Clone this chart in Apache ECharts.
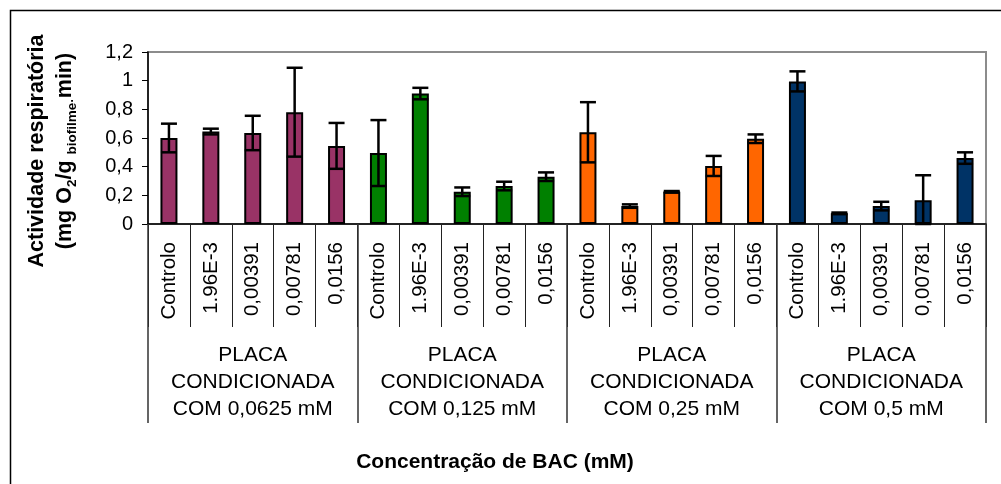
<!DOCTYPE html>
<html>
<head>
<meta charset="utf-8">
<script src="https://cdn.jsdelivr.net/npm/echarts@6/dist/echarts.min.js"></script>
<style>
html,body{margin:0;padding:0;background:#fff;}
#c{width:1001px;height:484px;}
</style>
</head>
<body>
<div id="c"></div>
<script>
const categories = ['Controlo','1.96E-3','0,00391','0,00781','0,0156',
                    'Controlo','1.96E-3','0,00391','0,00781','0,0156',
                    'Controlo','1.96E-3','0,00391','0,00781','0,0156',
                    'Controlo','1.96E-3','0,00391','0,00781','0,0156'];
const groups = ['PLACA\nCONDICIONADA\nCOM 0,0625 mM','PLACA\nCONDICIONADA\nCOM 0,125 mM',
                'PLACA\nCONDICIONADA\nCOM 0,25 mM','PLACA\nCONDICIONADA\nCOM 0,5 mM'];
const values = [0.60, 0.645, 0.635, 0.78, 0.545,
                0.495, 0.91, 0.225, 0.265, 0.33,
                0.64, 0.125, 0.225, 0.405, 0.595,
                0.995, 0.075, 0.125, 0.165, 0.46];
const errors = [0.10, 0.02, 0.12, 0.31, 0.16,
                0.23, 0.04, 0.03, 0.03, 0.03,
                0.21, 0.012, 0.005, 0.07, 0.03,
                0.07, 0.005, 0.03, 0.175, 0.04];
const groupColors = ['#993366','#008000','#FF6600','#003366'];
const yTicks = {min:0, max:1.2, interval:0.2};

const FONT = "'Liberation Sans', Arial, sans-serif";
const chart = echarts.init(document.getElementById('c'), null, {renderer:'canvas'});

const barData = values.map((v,i)=>({value:v, itemStyle:{color:groupColors[Math.floor(i/5)]}}));
const errData = values.map((v,i)=>[i, v, errors[i]]);

const option = {
  animation:false,
  backgroundColor:'#fff',
  grid:{left:148, right:15, top:52, bottom:260, show:true, borderColor:'#8c8c8c', borderWidth:2, backgroundColor:'transparent'},
  xAxis:[{
    type:'category', data:categories, position:'bottom',
    axisLine:{show:true, lineStyle:{color:'#000', width:1.5}},
    axisTick:{show:true, interval:0, length:103, lineStyle:{color:'#222', width:1}},
    axisLabel:{interval:0, rotate:90, margin:18, fontSize:20.5, color:'#000', fontFamily:FONT},
    splitLine:{show:false}
  },{
    type:'category', data:groups, position:'bottom',
    axisLine:{show:false},
    axisTick:{show:true, interval:0, length:199, lineStyle:{color:'#333', width:1.5}},
    axisLabel:{interval:0, margin:118, fontSize:21, lineHeight:27, color:'#000', fontFamily:FONT, align:'center'},
    splitLine:{show:false}
  }],
  yAxis:{
    type:'value', min:yTicks.min, max:yTicks.max, interval:yTicks.interval,
    axisLine:{show:true, lineStyle:{color:'#000', width:1.5}},
    axisTick:{show:true, inside:false, length:6, lineStyle:{color:'#000', width:1}},
    splitLine:{show:false},
    axisLabel:{margin:15, fontSize:20, color:'#000', fontFamily:FONT,
      formatter:v=>String(+v.toFixed(1)).replace('.', ',')}
  },
  graphic:[
    {type:'rect', shape:{x:10.5, y:10.5, width:1200, height:1000}, style:{fill:'none', stroke:'#000', lineWidth:1.5}, silent:true, z:100},
    {type:'text', x:51, y:151, rotation:Math.PI/2, silent:true,
      style:{
        text:'Actividade respiratória\n(mg O{sub|2}/g {sub|biofilme}{sub|·}min)',
        align:'center', verticalAlign:'middle', lineHeight:28,
        font:"bold 21.5px 'Liberation Sans', Arial, sans-serif", fill:'#000',
        rich:{sub:{fontSize:13.5, fontWeight:'bold', fontFamily:FONT, verticalAlign:'bottom', lineHeight:22, fill:'#000'}}
      }},
    {type:'text', x:495, y:462, silent:true,
      style:{text:'Concentração de BAC (mM)', align:'center', verticalAlign:'middle',
        font:"bold 21px 'Liberation Sans', Arial, sans-serif", fill:'#000'}}
  ],
  series:[{
    type:'bar', xAxisIndex:0, data:barData, barWidth:17,
    itemStyle:{borderColor:'#000', borderWidth:2}, z:2
  },{
    type:'custom', xAxisIndex:0, data:errData, z:5,
    encode:{x:0, y:1},
    renderItem:function(params, api){
      const i = api.value(0), v = api.value(1), e = api.value(2);
      const top = api.coord([i, v+e]);
      const bot = api.coord([i, Math.max(0, v-e)]);
      const hw = 8;
      const st = {stroke:'#000', lineWidth:2.5};
      return {type:'group', children:[
        {type:'line', shape:{x1:top[0], y1:top[1], x2:bot[0], y2:bot[1]}, style:st},
        {type:'line', shape:{x1:top[0]-hw, y1:top[1], x2:top[0]+hw, y2:top[1]}, style:st},
        {type:'line', shape:{x1:bot[0]-hw, y1:bot[1], x2:bot[0]+hw, y2:bot[1]}, style:st}
      ]};
    }
  }]
};
chart.setOption(option);
</script>
</body>
</html>
